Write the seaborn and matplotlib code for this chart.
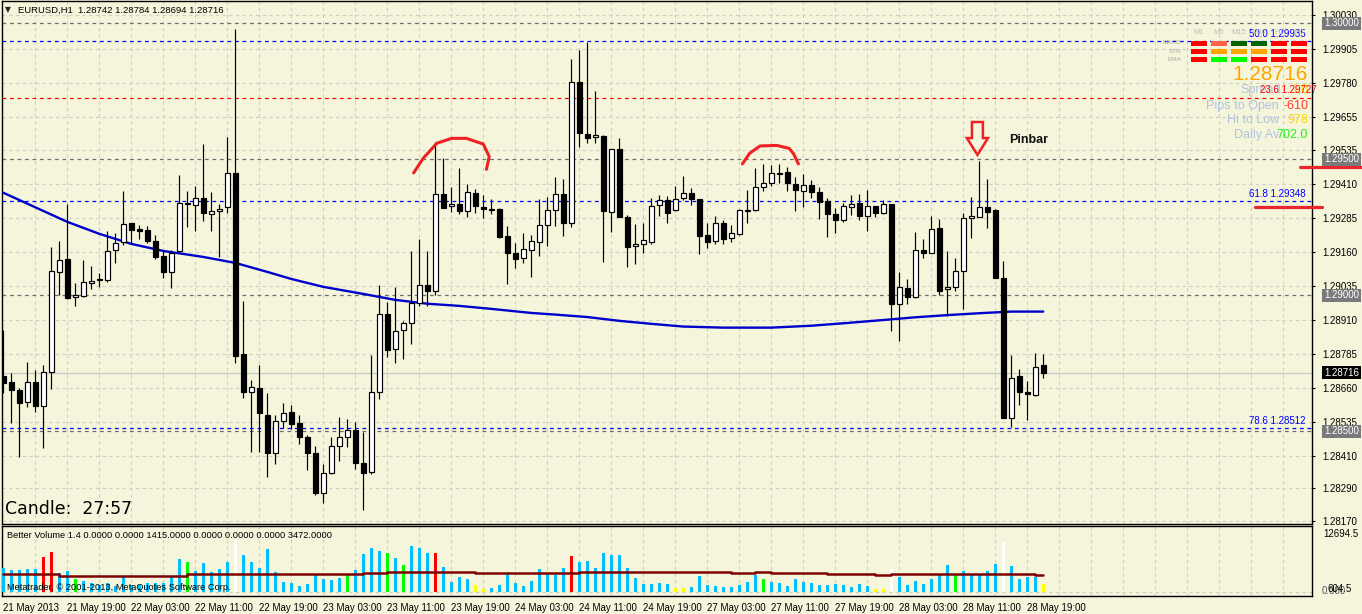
import matplotlib
matplotlib.use("Agg")
import matplotlib.pyplot as plt
from matplotlib.patches import Polygon, Rectangle
import numpy as np
import seaborn as sns

# ---------------- data ----------------
OPEN = [1.28704, 1.28681, 1.28652, 1.28607, 1.28680, 1.28594, 1.28717, 1.29087, 1.29132, 1.28993,
        1.28999, 1.29044, 1.29056, 1.29055, 1.29167, 1.29197, 1.29265, 1.29243, 1.29240, 1.29200,
        1.29143, 1.29087, 1.29162, 1.29340, 1.29331, 1.29357, 1.29298, 1.29309, 1.29324, 1.29449,
        1.28783, 1.28646, 1.28658, 1.28560, 1.28419, 1.28538, 1.28570, 1.28530, 1.28480, 1.28419,
        1.28272, 1.28348, 1.28446, 1.28478, 1.28505, 1.28382, 1.28349, 1.28643, 1.28930, 1.28801,
        1.28871, 1.28897, 1.28971, 1.29036, 1.29014, 1.29371, 1.29328, 1.29336, 1.29311, 1.29375,
        1.29324, 1.29315, 1.29317, 1.29218, 1.29154, 1.29136, 1.29167, 1.29195, 1.29257, 1.29313,
        1.29371, 1.29265, 1.29783, 1.29592, 1.29581, 1.29586, 1.29308, 1.29537, 1.29288, 1.29180,
        1.29188, 1.29195, 1.29331, 1.29351, 1.29313, 1.29357, 1.29375, 1.29353, 1.29222, 1.29199,
        1.29265, 1.29210, 1.29224, 1.29311, 1.29313, 1.29397, 1.29414, 1.29447, 1.29452, 1.29409,
        1.29385, 1.29406, 1.29379, 1.29347, 1.29299, 1.29275, 1.29326, 1.29340, 1.29293, 1.29328,
        1.29304, 1.29336, 1.28967, 1.29028, 1.28995, 1.29167, 1.29154, 1.29246, 1.29022, 1.29029,
        1.29090, 1.29283, 1.29289, 1.29324, 1.29314, 1.29063, 1.28550, 1.28704, 1.28643, 1.28634,
        1.28742]
HIGH = [1.28873, 1.28713, 1.28658, 1.28756, 1.28726, 1.28744, 1.29177, 1.29201, 1.29336, 1.29044,
        1.29130, 1.29108, 1.29081, 1.29235, 1.29228, 1.29384, 1.29267, 1.29259, 1.29256, 1.29221,
        1.29161, 1.29167, 1.29442, 1.29384, 1.29402, 1.29556, 1.29380, 1.29336, 1.29583, 1.29978,
        1.28979, 1.28689, 1.28744, 1.28640, 1.28560, 1.28603, 1.28597, 1.28560, 1.28487, 1.28444,
        1.28379, 1.28480, 1.28554, 1.28545, 1.28533, 1.28499, 1.28781, 1.29038, 1.28977, 1.29032,
        1.28907, 1.29161, 1.29207, 1.29163, 1.29563, 1.29504, 1.29397, 1.29468, 1.29409, 1.29391,
        1.29369, 1.29354, 1.29322, 1.29255, 1.29194, 1.29228, 1.29222, 1.29353, 1.29360, 1.29435,
        1.29427, 1.29869, 1.29902, 1.29930, 1.29751, 1.29589, 1.29537, 1.29578, 1.29294, 1.29262,
        1.29265, 1.29357, 1.29370, 1.29365, 1.29402, 1.29440, 1.29396, 1.29354, 1.29265, 1.29292,
        1.29277, 1.29260, 1.29317, 1.29387, 1.29469, 1.29482, 1.29479, 1.29483, 1.29473, 1.29436,
        1.29446, 1.29424, 1.29397, 1.29359, 1.29322, 1.29341, 1.29369, 1.29373, 1.29387, 1.29330,
        1.29351, 1.29336, 1.29085, 1.29060, 1.29234, 1.29207, 1.29292, 1.29281, 1.29161, 1.29136,
        1.29302, 1.29363, 1.29494, 1.29428, 1.29317, 1.29126, 1.28781, 1.28728, 1.28683, 1.28789,
        1.28784]
LOW = [1.28640, 1.28532, 1.28405, 1.28588, 1.28572, 1.28438, 1.28655, 1.29001, 1.28985, 1.28962,
       1.28995, 1.29022, 1.29029, 1.29050, 1.29120, 1.29185, 1.29187, 1.29208, 1.29194, 1.29135,
       1.29065, 1.29028, 1.29154, 1.29250, 1.29238, 1.29272, 1.29238, 1.29142, 1.29304, 1.28750,
       1.28624, 1.28422, 1.28425, 1.28331, 1.28379, 1.28511, 1.28507, 1.28452, 1.28356, 1.28266,
       1.28235, 1.28343, 1.28389, 1.28441, 1.28360, 1.28211, 1.28343, 1.28618, 1.28772, 1.28752,
       1.28765, 1.28820, 1.28961, 1.28961, 1.29001, 1.29320, 1.29308, 1.29299, 1.29287, 1.29304,
       1.29283, 1.29298, 1.29212, 1.29041, 1.29099, 1.29118, 1.29069, 1.29146, 1.29183, 1.29256,
       1.29219, 1.29250, 1.29547, 1.29559, 1.29561, 1.29124, 1.29234, 1.29286, 1.29103, 1.29114,
       1.29154, 1.29188, 1.29293, 1.29265, 1.29311, 1.29349, 1.29331, 1.29151, 1.29173, 1.29188,
       1.29188, 1.29197, 1.29222, 1.29265, 1.29311, 1.29385, 1.29400, 1.29412, 1.29385, 1.29311,
       1.29326, 1.29357, 1.29279, 1.29216, 1.29230, 1.29268, 1.29295, 1.29275, 1.29238, 1.29289,
       1.29299, 1.28867, 1.28833, 1.28968, 1.28989, 1.29136, 1.29154, 1.29001, 1.28925, 1.29014,
       1.28949, 1.29210, 1.29286, 1.29249, 1.29065, 1.28548, 1.28517, 1.28597, 1.28542, 1.28631,
       1.28694]
CLOSE = [1.28679, 1.28652, 1.28603, 1.28680, 1.28594, 1.28717, 1.29091, 1.29130, 1.28991, 1.29000,
         1.29048, 1.29052, 1.29059, 1.29162, 1.29191, 1.29261, 1.29240, 1.29235, 1.29200, 1.29139,
         1.29087, 1.29157, 1.29338, 1.29335, 1.29357, 1.29302, 1.29310, 1.29316, 1.29449, 1.28778,
         1.28646, 1.28661, 1.28566, 1.28419, 1.28538, 1.28566, 1.28526, 1.28478, 1.28419, 1.28272,
         1.28346, 1.28446, 1.28480, 1.28505, 1.28382, 1.28346, 1.28643, 1.28930, 1.28797, 1.28868,
         1.28897, 1.28971, 1.29036, 1.29014, 1.29371, 1.29322, 1.29336, 1.29311, 1.29379, 1.29330,
         1.29316, 1.29317, 1.29216, 1.29154, 1.29135, 1.29169, 1.29200, 1.29257, 1.29313, 1.29371,
         1.29265, 1.29783, 1.29596, 1.29577, 1.29588, 1.29311, 1.29537, 1.29286, 1.29179, 1.29188,
         1.29202, 1.29327, 1.29349, 1.29304, 1.29353, 1.29375, 1.29353, 1.29219, 1.29197, 1.29265,
         1.29208, 1.29228, 1.29313, 1.29314, 1.29397, 1.29414, 1.29451, 1.29450, 1.29412, 1.29387,
         1.29406, 1.29379, 1.29344, 1.29298, 1.29275, 1.29328, 1.29336, 1.29293, 1.29330, 1.29302,
         1.29336, 1.28969, 1.29032, 1.28995, 1.29167, 1.29154, 1.29244, 1.29017, 1.29031, 1.29090,
         1.29283, 1.29292, 1.29324, 1.29308, 1.29065, 1.28548, 1.28695, 1.28646, 1.28636, 1.28738,
         1.28716]

# 200-period moving average read at sample candles
MA_IDX = [0, 8, 12, 16, 20, 25, 29, 33, 36, 40, 45, 49, 53, 57, 61, 66, 69, 73, 77, 81, 85, 90,
          96, 101, 105, 110, 114, 118, 122, 126, 130]
MA_VAL = [1.29377, 1.29270, 1.29226, 1.29189, 1.29163, 1.29141, 1.29119, 1.29086, 1.29060, 1.29031,
          1.29005, 1.28983, 1.28969, 1.28961, 1.28950, 1.28935, 1.28929, 1.28920, 1.28906, 1.28895,
          1.28885, 1.28881, 1.28881, 1.28888, 1.28897, 1.28909, 1.28919, 1.28927, 1.28934, 1.28940,
          1.28940]

VOLUME = [4700, 4245, 4245, 4440, 4440, 6857, 7771, 3592, 4049, 2481, 2090, 1633, 1306, 1763, 1175,
          2808, 1306, 1306, 1763, 1633, 1763, 2939, 6399, 5877, 4049, 5551, 3918, 4440, 5877, 10122,
          7248, 5812, 4700, 8358, 3918, 1959, 1763, 1175, 1567, 3265, 2547, 2286, 2743, 3265, 4245,
          7444, 8620, 8032, 7640, 6661, 5289, 9011, 8489, 7640, 7640, 4898, 1959, 2873, 2547, 1306,
          522, 784, 1306,
          3592, 1763, 1110, 2090, 4440, 3722, 3265, 4636, 6987, 5812, 6008, 4636, 7575, 7248, 7183,
          4636, 2677, 1502, 1502, 1698, 1502, 718, 718, 914, 3069, 1306, 1110, 914, 914, 1306, 1894,
          3265, 2416, 1894, 1698, 1110, 2481, 1894, 1698, 1306, 1306, 1502, 1306, 914, 1502, 1110,
          522, 522, 4440, 2873, 1306, 2090, 1502, 2481, 3265, 5224, 3265, 4049, 3265, 3265, 4049,
          5420, 9730, 5028, 2481, 2873, 2873, 1415]
VOL_KIND = list("bbbbb" "rr" "bb" "g" "bbbbbbbbbbbbb" "g" "bbbbb" "w" "bbbbbbbbbbbbb" "g" "bbbb"
                "g" "b" "g" "bbb" "r" "bbbb" "yy" "bbbbbbbbbb" "r" "bbbbbbbbbbbb" "yy" "bbbbbbbbb"
                "g" "bbbbbbbbbbbbb" "yy" "w" "bbbbbbb" "g" "bbbbb" "w" "bbbb" "y")
VOL_MA_IDX = [0, 7, 23, 45, 48, 59, 72, 91, 94, 96, 103, 109, 111, 129, 130]
VOL_MA = [3396, 3134, 3396, 3592, 3787, 3592, 3787, 3592, 3918, 3722, 3526, 3265, 3526, 3300, 3300]

Y_TICKS = [1.30030, 1.29905, 1.29780, 1.29655, 1.29535, 1.29410, 1.29285, 1.29160, 1.29035,
           1.28910, 1.28785, 1.28660, 1.28535, 1.28410, 1.28290, 1.28170]
ROUND_LEVELS = [1.30000, 1.29500, 1.29000, 1.28500]
FIB_NAMES = ["50.0", "61.8", "78.6"]
FIB_LEVELS = [1.29935, 1.29348, 1.28512]
FIB_RED_NAME, FIB_RED_LEVEL = "23.6", 1.29727
LAST_PRICE = 1.28716
X_LABEL_IDX = list(range(0, 129, 8))
X_LABELS = ["21 May 2013", "21 May 19:00", "22 May 03:00", "22 May 11:00", "22 May 19:00",
            "23 May 03:00", "23 May 11:00", "23 May 19:00", "24 May 03:00", "24 May 11:00",
            "24 May 19:00", "27 May 03:00", "27 May 11:00", "27 May 19:00", "28 May 03:00",
            "28 May 11:00", "28 May 19:00"]

# hand drawn annotations (candle index, price)
ARC1_X = [51.3, 52.5, 54.2, 56.05, 57.9, 60.0, 60.75, 60.4]
ARC1_Y = [1.29450, 1.29504, 1.29559, 1.29577, 1.29577, 1.29556, 1.29510, 1.29463]
ARC2_X = [92.4, 93.3, 94.6, 96.7, 98.25, 98.8, 99.4]
ARC2_Y = [1.29483, 1.29522, 1.29549, 1.29551, 1.29540, 1.29520, 1.29483]
ARROW_X = [121.09, 122.46, 122.46, 123.09, 121.78, 120.46, 121.09]
ARROW_Y = [1.29637, 1.29637, 1.29578, 1.29578, 1.29516, 1.29578, 1.29578]
RED_MARK_LEVELS = [1.29473, 1.29324]
RED_MARK_SPANS = [(162.1, 169.8), (156.5, 164.9)]

assert len(OPEN) == len(HIGH) == len(LOW) == len(CLOSE) == len(VOLUME) == len(VOL_KIND) == 131

# ---------------- figure ----------------
BG = "#F5F5DC"
GRID = "#CFCFC6"
W, H = 1362, 614
sns.set_style("white")
plt.rcParams['font.family'] = ['Liberation Sans', 'DejaVu Sans']

fig = plt.figure(figsize=(W / 100, H / 100), dpi=100, facecolor=BG)


def frame(x0, y0, x1, y1):
    return [x0 / W, 1 - y1 / H, (x1 - x0) / W, (y1 - y0) / H]


def ftext(x, y, s, **kw):
    fig.text(x / W, 1 - y / H, s, **kw)


ax = fig.add_axes(frame(2, 1, 1312, 524), facecolor=BG)
axv = fig.add_axes(frame(2, 526, 1312, 596), facecolor=BG)

XMIN, XMAX = -0.16, 163.6
ax.set_xlim(XMIN, XMAX)
axv.set_xlim(XMIN, XMAX)
ax.set_ylim(1.28159, 1.30082)
axv.set_ylim(-843, 12877)

dash = (0, (3, 3))
for v in Y_TICKS:
    ax.axhline(v, color=GRID, lw=0.8, ls=dash, zorder=0)
for k in range(4, 164, 4):
    ax.axvline(k, color=GRID, lw=0.8, ls=dash, zorder=0)
    axv.axvline(k, color=GRID, lw=0.8, ls=dash, zorder=0)
axv.axhline(0, color=GRID, lw=0.8, ls=dash, zorder=0)

# level lines
for v in ROUND_LEVELS:
    ax.axhline(v, color="#6E6E6E", lw=0.9, ls=dash, zorder=1)
for v in FIB_LEVELS:
    ax.axhline(v, color="#0000FF", lw=0.9, ls=dash, zorder=1)
ax.axhline(FIB_RED_LEVEL, color="#FF0000", lw=0.9, ls=dash, zorder=1)
ax.axhline(LAST_PRICE, color="#C8C8C8", lw=0.9, zorder=1)

# moving average
sns.lineplot(x=MA_IDX, y=MA_VAL, ax=ax, color="#0000CD", lw=1.7, zorder=3)

# candles
idx = np.arange(len(OPEN))
o, h, l, c = map(np.array, (OPEN, HIGH, LOW, CLOSE))
ax.vlines(idx, l, h, color="black", lw=0.85, zorder=4)
bull = c >= o
lo = np.minimum(o, c)
hgt = np.maximum(np.abs(c - o), 0.000012)
ax.bar(idx[bull], hgt[bull], bottom=lo[bull], width=0.62, color="white",
       edgecolor="black", lw=0.85, zorder=5)
ax.bar(idx[~bull], hgt[~bull], bottom=lo[~bull], width=0.62, color="black",
       edgecolor="black", lw=0.85, zorder=5)

# annotations
ax.plot(ARC1_X, ARC1_Y, color="#EE2222", lw=2.2, solid_capstyle="round",
        solid_joinstyle="round", zorder=6)
ax.plot(ARC2_X, ARC2_Y, color="#EE2222", lw=2.2, solid_capstyle="round",
        solid_joinstyle="round", zorder=6)
ax.add_patch(Polygon(list(zip(ARROW_X, ARROW_Y)), closed=True, fill=False,
                     edgecolor="#EE2222", lw=1.8, zorder=6))
for lev, (a, b) in zip(RED_MARK_LEVELS, RED_MARK_SPANS):
    ax.plot([a, b], [lev, lev], color="#E8262B", lw=2.3, clip_on=False, zorder=7)
ax.text(125.7, 1.29572, "Pinbar", fontsize=9, fontweight="bold", color="#111111",
        ha="left", va="center", zorder=7)

# fib labels
for name, lev in zip(FIB_NAMES, FIB_LEVELS):
    ax.annotate(f"{name} {lev:.5f}", xy=(162.8, lev), xytext=(0, 1.5),
                textcoords="offset points", ha="right", va="bottom",
                fontsize=7, color="#0000FF", zorder=6)

# right axis
ax.yaxis.tick_right()
ax.set_yticks(Y_TICKS)
ax.set_yticklabels([f"{v:.5f}" for v in Y_TICKS])
ax.tick_params(axis="y", direction="out", length=2.5, width=0.8, labelsize=7, pad=5,
               colors="black")
ax.set_xticks([])
ax.set_xlabel("")
ax.set_ylabel("")

ytr = ax.get_yaxis_transform()
for v in ROUND_LEVELS:
    ax.text(1.0092, v, f"{v:.5f}", transform=ytr, fontsize=7, color="white",
            ha="left", va="center", clip_on=False, zorder=8,
            bbox=dict(boxstyle="square,pad=0.18", fc="#7A7A7A", ec="none"))
ax.text(1.0092, LAST_PRICE, f"{LAST_PRICE:.5f}", transform=ytr, fontsize=7, color="white",
        ha="left", va="center", clip_on=False, zorder=8,
        bbox=dict(boxstyle="square,pad=0.18", fc="black", ec="none"))

# volume
VCOL = {"b": "#00BFFF", "r": "#FF0000", "g": "#00FF00", "w": "#FFFFFF", "y": "#FFFF00"}
axv.bar(idx, VOLUME, width=0.38, color=[VCOL[k] for k in VOL_KIND], lw=0, zorder=3)
sns.lineplot(x=VOL_MA_IDX, y=VOL_MA, ax=axv, color="#7F0000", lw=1.8,
             drawstyle="steps-post", zorder=4)
axv.set_yticks([])
axv.set_xlabel("")
axv.set_ylabel("")
axv.set_xticks(X_LABEL_IDX)
axv.set_xticklabels(X_LABELS)
for lab in axv.get_xticklabels():
    lab.set_ha("left")
axv.tick_params(axis="x", direction="out", length=3, width=0.8, labelsize=7, pad=2,
                colors="black")

for a in (ax, axv):
    for s in a.spines.values():
        s.set_color("black")
        s.set_linewidth(1.0)
        s.set_visible(True)

# texts
ftext(5, 10, "\u25BC", fontsize=5.5, color="#222222", va="center", family=["DejaVu Sans"])
ftext(18, 10, "EURUSD,H1  1.28742 1.28784 1.28694 1.28716", fontsize=6.8, color="black",
      va="center")
ftext(5, 509, "Candle:  27:57", fontsize=12.5, color="black", va="center",
      family=["DejaVu Sans"])
ftext(7, 535, "Better Volume 1.4 0.0000 0.0000 1415.0000 0.0000 0.0000 0.0000 3472.0000",
      fontsize=6.7, color="black", va="center")
ftext(7, 588, "Metatrader, \u00a9 2001-2013, MetaQuotes Software Corp.", fontsize=6.7,
      color="black", va="center")
ftext(1323, 534, "12694.5", fontsize=7, color="black", va="center")
ftext(1322, 591, "0.000", fontsize=7, color="#555555", va="center")
ftext(1327, 589, "604.5", fontsize=7, color="black", va="center")

# indicator dashboard
COL_NAMES = ["M1", "M5", "M15", "M30", "H1", "H4"]
ROW_NAMES = ["MACD", "STR", "EMA"]
DASH = [["#FF0000", "#FF6347", "#006400", "#006400", "#FF0000", "#FF0000"],
        ["#FF0000", "#FFA500", "#FFA500", "#FFA500", "#FF0000", "#FF0000"],
        ["#FF0000", "#00FF00", "#00FF00", "#FF0000", "#FF0000", "#FF0000"]]
for j, name in enumerate(COL_NAMES):
    ftext(1199 + 20 * j, 32, name, fontsize=5.5, color="#BDBDBD", ha="center", va="center")
for i, name in enumerate(ROW_NAMES):
    ftext(1181, 43 + 8.3 * i, name, fontsize=4.6, color="#A8A8A8", ha="right", va="center")
    for j in range(6):
        x0, y0 = 1190.7 + 20 * j, 40.7 + 8.3 * i
        fig.patches.append(Rectangle((x0 / W, 1 - (y0 + 5) / H), 16.7 / W, 5 / H,
                                     transform=fig.transFigure, fc=DASH[i][j], ec="none",
                                     zorder=9))
ftext(1308, 75, "1.28716", fontsize=15, color="#FFA500", ha="right", va="center")
ftext(1281, 90, "Spread", fontsize=9, color="#B0C4DE", ha="right", va="center")
ftext(1308, 90, "1.0", fontsize=9, color="#FFD700", ha="right", va="center")
ftext(1317, 90, f"{FIB_RED_NAME} {FIB_RED_LEVEL:.5f}", fontsize=7, color="#FF0000",
      ha="right", va="center")
ftext(1279, 106, "Pips to Open", fontsize=9, color="#B0C4DE", ha="right", va="center")
ftext(1308, 106, "-610", fontsize=9, color="#FF3B30", ha="right", va="center")
ftext(1279, 120, "Hi to Low", fontsize=9, color="#B0C4DE", ha="right", va="center")
ftext(1308, 120, "978", fontsize=9, color="#FFD700", ha="right", va="center")
ftext(1279, 135, "Daily Av", fontsize=9, color="#B0C4DE", ha="right", va="center")
ftext(1308, 135, "702.0", fontsize=9, color="#22EE22", ha="right", va="center")

fig.savefig("out.png", dpi=100, facecolor=BG)
